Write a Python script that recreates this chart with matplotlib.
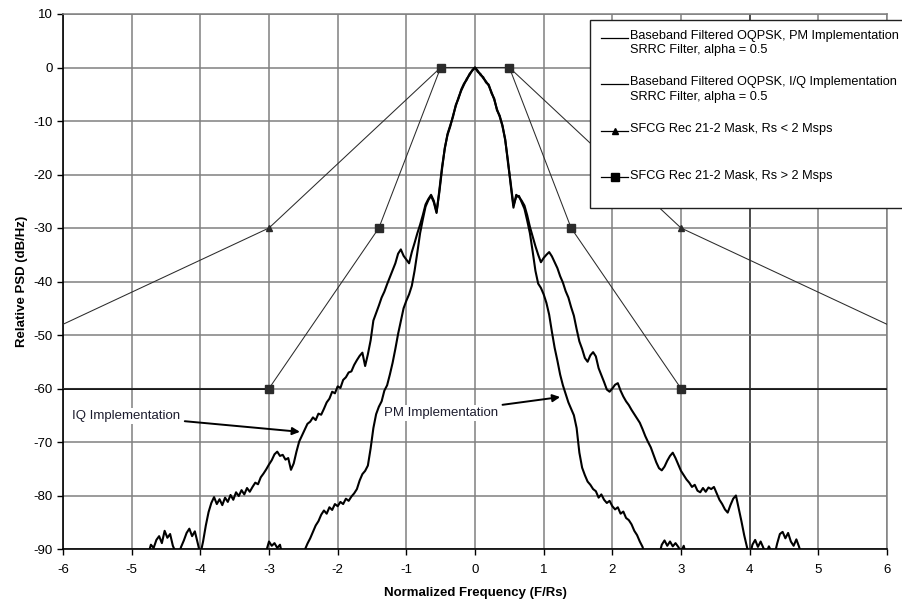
import numpy as np
import matplotlib
matplotlib.use("Agg")
import matplotlib.pyplot as plt
from matplotlib.lines import Line2D
from matplotlib.patches import Rectangle

plt.rcParams["font.family"] = ["Liberation Sans", "DejaVu Sans"]
plt.rcParams["axes.unicode_minus"] = False

# ---------------------------------------------------------------------------
# Measured spectra, sampled every 0.04 F/Rs
# ---------------------------------------------------------------------------
IQ_F0, PM_F0, DF = -4.80, -3.20, 0.04

iq_psd = [
    -96.0, -91.0, -89.2, -89.8, -88.3, -87.6, -88.9, -86.6, -87.9, -87.2,   # -4.80
    -89.4, -90.6, -91.2, -89.6, -88.4, -87.0, -86.2, -87.6, -86.7, -88.8,   # -4.40
    -91.0, -88.6, -85.6, -83.1, -81.4, -80.3, -81.6, -80.7, -81.8, -80.4,   # -4.00
    -81.2, -79.9, -80.8, -79.4, -80.1, -79.0, -79.8, -78.6, -79.3, -78.4,   # -3.60
    -77.6, -77.9, -76.6, -75.9, -75.1, -74.2, -73.4, -72.3, -71.8, -72.6,   # -3.20
    -72.4, -73.3, -73.0, -75.2, -74.0, -71.8, -69.9, -68.8, -67.7, -66.6,   # -2.80
    -66.2, -65.4, -65.9, -64.7, -64.9, -63.8, -62.6, -61.9, -60.6, -60.9,   # -2.40
    -59.6, -59.9, -58.4, -57.9, -57.0, -56.8, -55.6, -54.7, -53.9, -53.3,   # -2.00
    -55.8, -53.6, -51.0, -47.3, -45.9, -44.5, -43.0, -41.9, -40.5, -39.2,   # -1.60
    -37.9, -36.6, -34.8, -34.0, -35.2, -35.9, -36.6, -34.5, -32.8, -31.0,   # -1.20
    -29.4, -27.6, -25.6, -24.6, -23.8, -24.9, -27.0, -23.4, -19.0, -15.0,   # -0.80
    -12.6, -11.0, -9.0, -7.2, -5.6, -4.3, -3.2, -2.1, -1.4, -0.5,           # -0.40
    0.0, -0.8, -1.2, -2.0, -2.6, -3.4, -4.6, -6.0, -7.8, -9.2,              # 0.00
    -10.8, -13.6, -17.4, -22.0, -26.2, -23.8, -24.2, -24.9, -25.8, -27.6,   # 0.40
    -29.8, -31.6, -33.4, -35.0, -36.4, -35.6, -35.0, -34.5, -35.3, -36.4,   # 0.80
    -37.5, -39.0, -40.2, -41.8, -43.0, -44.8, -46.4, -48.9, -51.2, -52.6,   # 1.20
    -54.3, -55.0, -53.8, -53.2, -54.0, -56.2, -57.5, -58.8, -60.2, -60.6,   # 1.60
    -60.0, -59.3, -59.0, -60.4, -61.5, -62.4, -63.1, -64.0, -64.8, -65.6,   # 2.00
    -66.4, -67.6, -68.9, -70.0, -71.0, -72.4, -73.8, -74.9, -75.3, -74.6,   # 2.40
    -73.5, -72.6, -72.0, -73.0, -74.2, -75.4, -76.2, -77.0, -77.6, -78.4,   # 2.80
    -78.0, -79.1, -79.4, -78.6, -79.3, -78.5, -78.8, -78.4, -79.6, -80.8,   # 3.20
    -81.6, -82.6, -83.2, -81.8, -80.6, -80.0, -82.4, -84.8, -87.4, -89.6,   # 3.60
    -91.5, -89.2, -88.3, -89.6, -88.6, -89.8, -90.8, -89.5, -90.6, -91.2,   # 4.00
    -89.0, -87.2, -86.8, -88.0, -87.0, -88.6, -89.4, -88.2, -89.6, -91.5,   # 4.40
    -96.0,                                                                  # 4.80
]

pm_psd = [
    -95.0, -95.0, -94.0, -92.0, -90.4, -88.6, -89.4, -88.9, -89.8, -89.2,   # -3.20
    -91.5, -93.0, -94.0, -94.0, -93.5, -93.0, -92.2, -91.0, -90.2, -89.0,   # -2.80
    -88.0, -86.8, -85.6, -84.8, -83.6, -82.8, -83.4, -82.2, -82.7, -81.6,   # -2.40
    -82.0, -81.2, -81.6, -80.6, -81.0, -80.2, -79.6, -78.8, -77.2, -76.0,   # -2.00
    -75.4, -74.4, -71.2, -67.4, -64.8, -63.4, -62.4, -60.4, -59.4, -57.4,   # -1.60
    -55.2, -52.6, -49.8, -47.4, -45.0, -43.6, -42.4, -40.8, -38.0, -34.6,   # -1.20
    -31.0, -28.4, -26.0, -24.8, -24.0, -25.2, -27.2, -23.0, -18.6, -15.2,   # -0.80
    -12.4, -10.8, -9.2, -7.0, -5.8, -4.1, -3.0, -2.3, -1.2, -0.6,           # -0.40
    0.0, -0.6, -1.4, -1.8, -2.8, -3.2, -4.8, -5.8, -8.0, -9.0,              # 0.00
    -11.0, -13.4, -17.8, -21.6, -25.8, -24.2, -24.0, -25.2, -26.4, -28.6,   # 0.40
    -31.0, -34.4, -38.0, -40.4, -41.2, -42.4, -44.0, -46.2, -49.4, -52.4,   # 0.80
    -54.8, -57.4, -59.4, -61.0, -62.6, -63.8, -65.0, -67.4, -72.0, -74.8,   # 1.20
    -76.2, -77.4, -78.0, -78.8, -79.2, -80.4, -79.8, -80.8, -81.4, -81.0,   # 1.60
    -82.0, -82.6, -82.2, -83.4, -83.0, -84.2, -84.6, -85.4, -86.6, -87.4,   # 2.00
    -88.6, -89.6, -91.5, -93.0, -94.0, -94.0, -93.0, -91.2, -89.2, -88.4,   # 2.40
    -89.4, -88.6, -89.5, -88.9, -89.6, -90.5, -89.4, -91.6, -94.0, -95.0,   # 2.80
    -95.0,                                                                  # 3.20
]

iq_freq = IQ_F0 + DF * np.arange(len(iq_psd))
pm_freq = PM_F0 + DF * np.arange(len(pm_psd))

# SFCG Rec 21-2 spectral masks
mask_lo_freq = [-6.0, -3.0, -0.5, 0.5, 3.0, 6.0]
mask_lo_psd = [-48.0, -30.0, 0.0, 0.0, -30.0, -48.0]
mask_hi_freq = [-6.0, -3.0, -1.4, -0.5, 0.5, 1.4, 3.0, 6.0]
mask_hi_psd = [-60.0, -60.0, -30.0, 0.0, 0.0, -30.0, -60.0, -60.0]

x_ticks = list(range(-6, 7))
y_ticks = list(range(-90, 11, 10))

legend_labels = [
    "Baseband Filtered OQPSK, PM Implementation\nSRRC Filter, alpha = 0.5",
    "Baseband Filtered OQPSK, I/Q Implementation\nSRRC Filter, alpha = 0.5",
    "SFCG Rec 21-2 Mask, Rs < 2 Msps",
    "SFCG Rec 21-2 Mask, Rs > 2 Msps",
]

# ---------------------------------------------------------------------------
W, H = 902, 600
fig = plt.figure(figsize=(W / 100, H / 100), dpi=100)
ax = fig.add_axes([63 / W, 1 - 549 / H, 824 / W, 535 / H])

grid_c = "#808080"
for xv in x_ticks:
    ax.axvline(xv, color="#1a1a1a" if xv == 4 else grid_c, lw=1.1, zorder=1)
for yv in y_ticks:
    ax.axhline(yv, color=grid_c, lw=1.1, zorder=1)

mask_c = "#2b2b2b"
ax.plot(mask_lo_freq, mask_lo_psd, color=mask_c, lw=0.75, marker="^", ms=5,
        markevery=[1, 2, 3, 4], zorder=3)
ax.plot(mask_hi_freq, mask_hi_psd, color=mask_c, lw=0.75, marker="s", ms=5.5,
        markevery=[1, 2, 3, 4, 5, 6], zorder=4)
ax.plot(mask_hi_freq[:2], mask_hi_psd[:2], color="black", lw=1.2, zorder=3)
ax.plot(mask_hi_freq[-2:], mask_hi_psd[-2:], color="black", lw=1.2, zorder=3)

ax.plot(iq_freq, iq_psd, color="black", lw=1.5, zorder=5)
ax.plot(pm_freq, pm_psd, color="black", lw=1.5, zorder=5)

ax.set_xlim(-6, 6)
ax.set_ylim(-90, 10)
ax.set_xticks(x_ticks)
ax.set_yticks(y_ticks)
ax.tick_params(axis="both", direction="out", length=4, width=1.0,
               labelsize=9.5, colors="black")
ax.tick_params(axis="x", pad=7)
for side in ("top", "right"):
    ax.spines[side].set_color(grid_c)
    ax.spines[side].set_linewidth(1.1)
for side in ("left", "bottom"):
    ax.spines[side].set_color("black")
    ax.spines[side].set_linewidth(1.2)

ax.set_xlabel("Normalized Frequency (F/Rs)", fontsize=9.5, fontweight="bold",
              labelpad=8)
ax.set_ylabel("Relative PSD (dB/Hz)", fontsize=9.5, fontweight="bold",
              labelpad=4)

note_c = "#1c1c2e"
ax.annotate("IQ Implementation", xy=(-2.55, -68.1), xytext=(-5.87, -65.1),
            fontsize=9.5, color=note_c, va="center", ha="left",
            bbox=dict(boxstyle="square,pad=0.15", fc="white", ec="none"),
            arrowprops=dict(arrowstyle="-|>", color="black", lw=1.4,
                            mutation_scale=11, shrinkA=2, shrinkB=0),
            zorder=6)
ax.annotate("PM Implementation", xy=(1.24, -61.6), xytext=(-1.33, -64.6),
            fontsize=9.5, color=note_c, va="center", ha="left",
            bbox=dict(boxstyle="square,pad=0.15", fc="white", ec="none"),
            arrowprops=dict(arrowstyle="-|>", color="black", lw=1.4,
                            mutation_scale=11, shrinkA=2, shrinkB=0),
            zorder=6)

# Legend panel, drawn in pixel positions on the figure
def fx(px):
    return px / W


def fy(py):
    return 1 - py / H


fig.add_artist(Rectangle((fx(590), fy(208)), fx(330), fy(20) - fy(208),
                         transform=fig.transFigure, fc="white", ec="#202020",
                         lw=1.0, zorder=10))
entry_rows = [37.7, 84.3, 130.7, 177.3]
entry_markers = [None, None, "^", "s"]
for label, row, mk in zip(legend_labels, entry_rows, entry_markers):
    fig.add_artist(Line2D([fx(601), fx(628)], [fy(row), fy(row)],
                          transform=fig.transFigure, color="black", lw=0.9,
                          zorder=11))
    if mk:
        fig.add_artist(Line2D([fx(614.5)], [fy(row)], transform=fig.transFigure,
                              color="black", marker=mk,
                              ms=5 if mk == "^" else 5.5, lw=0, zorder=11))
    fig.text(fx(630), fy(row - 7.8), label, fontsize=9.2, va="top",
             ha="left", linespacing=1.27, zorder=12,
             transform=fig.transFigure)

fig.savefig("out.png", dpi=100)
